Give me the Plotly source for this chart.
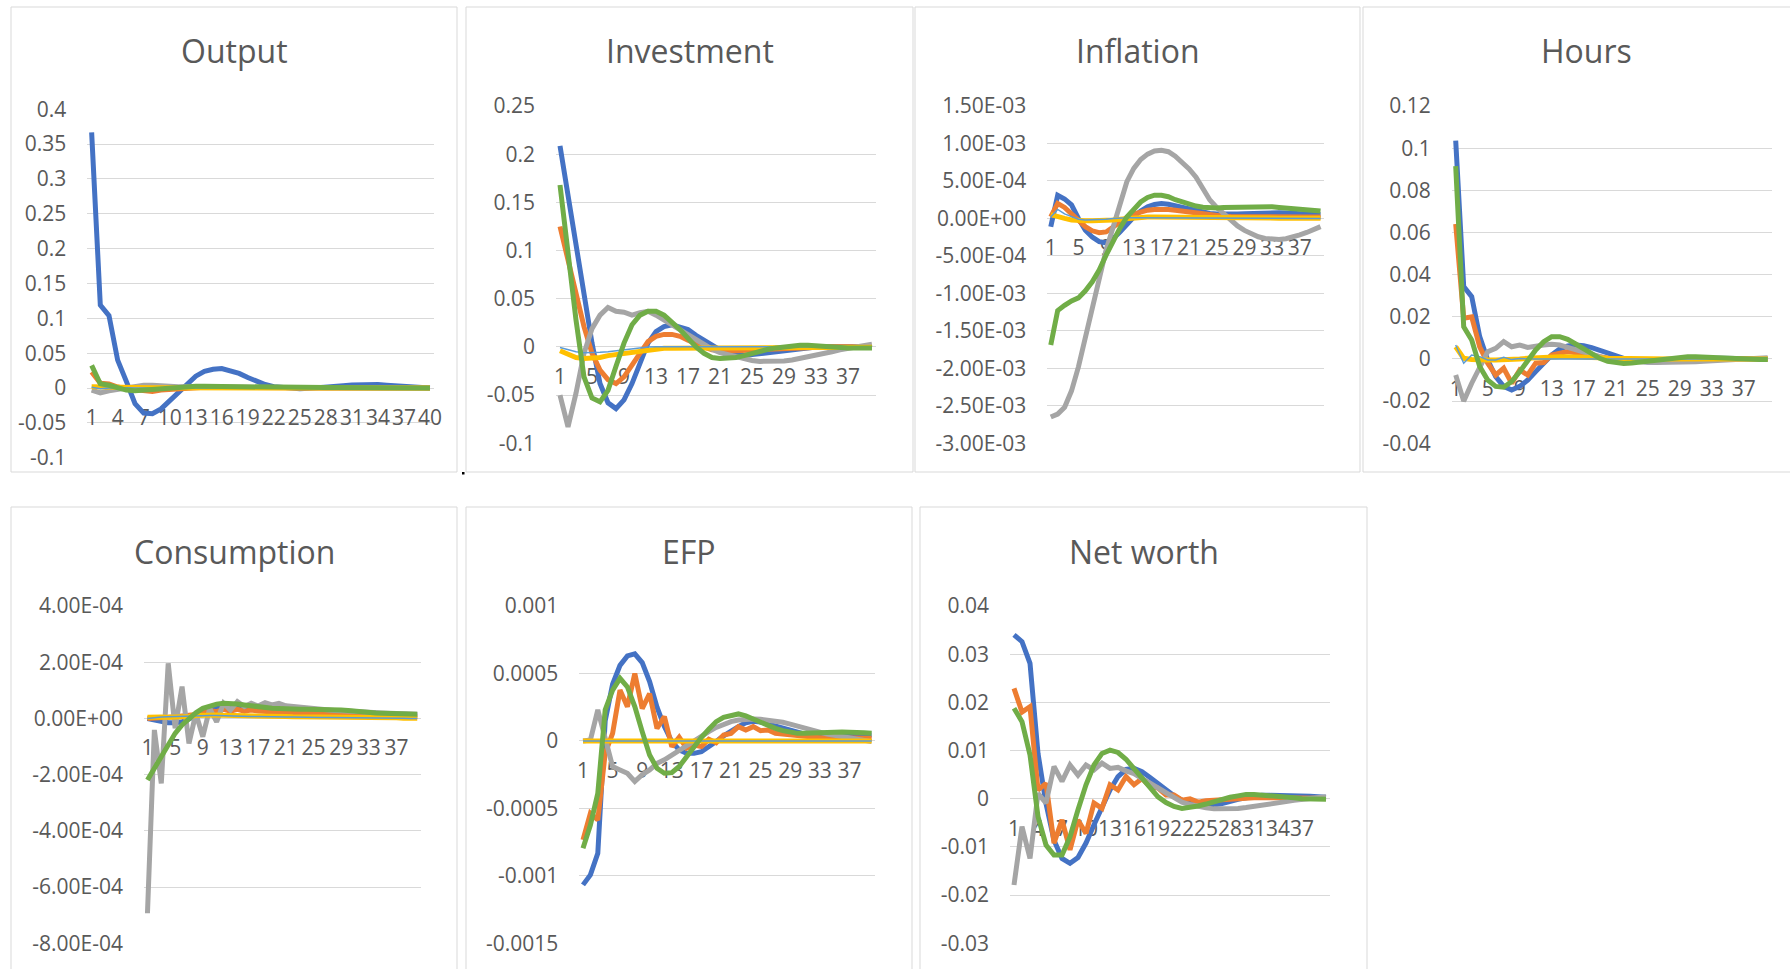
import plotly.graph_objects as go

W, H = 1790, 969
periods = list(range(1, 41))

# ---------------- Output ----------------
output_s1 = [0.367, 0.119, 0.104, 0.040, 0.0096, -0.0225, -0.036, -0.037, -0.030, -0.018,
             -0.006, 0.007, 0.017, 0.024, 0.027, 0.028, 0.025, 0.021, 0.015, 0.010,
             0.005, 0.002, 0.0005, -0.0005, -0.001, -0.0005, 0.0, 0.001, 0.0024, 0.0033,
             0.0043, 0.0048, 0.005, 0.005, 0.004, 0.003, 0.0024, 0.0014, 0.0005, 0.0]
output_s2 = [0.023, 0.007, 0.006, 0.0014, -0.001, -0.002, -0.004, -0.005, -0.003, -0.002,
             -0.001, 0.0005, 0.001, 0.001, 0.001, 0.0008, 0.0006, 0.0004, 0.0003, 0.0002,
             0.0001, 0.0, 0.0, 0.0, 0.0, 0.0, 0.0, 0.0, 0.0, 0.0,
             0.0, 0.0, 0.0, 0.0, 0.0, 0.0, 0.0, 0.0, 0.0, 0.0]
output_s3 = [-0.003, -0.007, -0.004, -0.002, 0.0014, 0.003, 0.004, 0.004, 0.003, 0.0025,
             0.002, 0.002, 0.0018, 0.0015, 0.0012, 0.001, 0.0008, 0.0005, 0.0003, 0.0001,
             0.0, -0.0002, -0.0003, -0.0003, -0.0003, -0.0003, -0.0002, -0.0002, -0.0001, -0.0001,
             0.0, 0.0, 0.0, 0.0, 0.0, 0.0, 0.0, 0.0, 0.0, 0.0]
output_s4 = [0.002, 0.0015, 0.001, 0.0008, 0.0006, 0.0005, 0.0004, 0.0003, 0.0003, 0.0002,
             0.0002, 0.0002, 0.0001, 0.0001, 0.0001, 0.0001, 0.0001, 0.0001, 0.0, 0.0,
             0.0, 0.0, 0.0, 0.0, 0.0, 0.0, 0.0, 0.0, 0.0, 0.0,
             0.0, 0.0, 0.0, 0.0, 0.0, 0.0, 0.0, 0.0, 0.0, 0.0]
output_s5 = [0.001, -0.001, 0.0, 0.0005, 0.0003, 0.0002, 0.0001, 0.0, 0.0, 0.0,
             0.0, 0.0, 0.0, 0.0, 0.0, 0.0, 0.0, 0.0, 0.0, 0.0,
             0.0, 0.0, 0.0, 0.0, 0.0, 0.0, 0.0, 0.0, 0.0, 0.0,
             0.0, 0.0, 0.0, 0.0, 0.0, 0.0, 0.0, 0.0, 0.0, 0.0]
output_s6 = [0.0325, 0.006, 0.004, 0.0, -0.003, -0.004, -0.003, -0.002, -0.001, 0.0005,
             0.0014, 0.0022, 0.0024, 0.0024, 0.0022, 0.002, 0.0016, 0.0012, 0.0008, 0.0005,
             0.0003, 0.0001, 0.0, -0.0001, 0.0, 0.0002, 0.0004, 0.0006, 0.0008, 0.0009,
             0.0009, 0.0008, 0.0007, 0.0006, 0.0005, 0.0004, 0.0003, 0.0002, 0.0001, 0.0]

# ---------------- Investment ----------------
investment_s1 = [0.2086, 0.156, 0.104, 0.052, 0.004, -0.038, -0.058, -0.064, -0.055, -0.038,
                 -0.017, 0.004, 0.016, 0.021, 0.023, 0.021, 0.018, 0.012, 0.007, 0.001,
                 -0.003, -0.006, -0.008, -0.009, -0.008, -0.007, -0.006, -0.0045, -0.003, -0.002,
                 -0.001, -0.0005, 0.0, 0.0003, 0.0005, 0.0005, 0.0005, 0.0004, 0.0003, 0.0002]
investment_s2 = [0.125, 0.090, 0.056, 0.021, -0.0066, -0.024, -0.034, -0.038, -0.031, -0.019,
                 -0.005, 0.0055, 0.011, 0.013, 0.013, 0.011, 0.007, 0.003, 0.0, -0.003,
                 -0.004, -0.004, -0.004, -0.004, -0.0035, -0.003, -0.0025, -0.002, -0.0015, -0.001,
                 -0.0006, -0.0003, 0.0, 0.0002, 0.0003, 0.0003, 0.0003, 0.0002, 0.0001, 0.0]
investment_s3 = [-0.050, -0.083, -0.048, -0.0066, 0.019, 0.033, 0.041, 0.037, 0.036, 0.033,
                 0.0356, 0.037, 0.033, 0.028, 0.023, 0.018, 0.012, 0.007, 0.002, -0.0024,
                 -0.006, -0.008, -0.011, -0.013, -0.014, -0.015, -0.015, -0.015, -0.0145, -0.0135,
                 -0.012, -0.010, -0.0086, -0.0066, -0.005, -0.003, -0.0014, 0.0003, 0.0017, 0.0028]
investment_s4 = [-0.004, -0.008, -0.011, -0.012, -0.012, -0.011, -0.009, -0.008, -0.0066, -0.005,
                 -0.004, -0.003, -0.002, -0.0014, -0.0014, -0.0014, -0.0014, -0.0014, -0.0012, -0.001,
                 -0.001, -0.001, -0.001, -0.0009, -0.0008, -0.0008, -0.0007, -0.0007, -0.0006, -0.0006,
                 -0.0005, -0.0005, -0.0005, -0.0004, -0.0004, -0.0004, -0.0003, -0.0003, -0.0003, -0.0003]
investment_s5 = [-0.0007, -0.003, -0.005, -0.006, -0.006, -0.0055, -0.005, -0.004, -0.0024, -0.0014,
                 -0.0005, 0.0, 0.0003, 0.0003, 0.0003, 0.0002, 0.0002, 0.0001, 0.0, 0.0,
                 0.0, 0.0, 0.0, 0.0, 0.0, 0.0, 0.0, 0.0, 0.0, 0.0,
                 0.0, 0.0, 0.0, 0.0, 0.0, 0.0, 0.0, 0.0, 0.0, 0.0]
investment_s6 = [0.168, 0.097, 0.028, -0.031, -0.053, -0.057, -0.045, -0.020, 0.004, 0.023,
                 0.033, 0.037, 0.037, 0.033, 0.026, 0.018, 0.009, 0.0, -0.0066, -0.011,
                 -0.012, -0.012, -0.011, -0.009, -0.0066, -0.0045, -0.0024, -0.001, 0.0003, 0.0014,
                 0.0017, 0.0017, 0.001, 0.0, -0.0005, -0.001, -0.001, -0.001, -0.001, -0.001]

# ---------------- Inflation ----------------
inflation_s1 = [-0.11e-3, 0.31e-3, 0.26e-3, 0.18e-3, 0.0, -0.156e-3, -0.25e-3, -0.31e-3, -0.325e-3, -0.27e-3,
                -0.18e-3, -0.067e-3, 0.02e-3, 0.10e-3, 0.156e-3, 0.187e-3, 0.20e-3, 0.19e-3, 0.17e-3, 0.14e-3,
                0.12e-3, 0.098e-3, 0.08e-3, 0.067e-3, 0.058e-3, 0.053e-3, 0.053e-3, 0.058e-3, 0.062e-3, 0.067e-3,
                0.071e-3, 0.076e-3, 0.076e-3, 0.076e-3, 0.071e-3, 0.067e-3, 0.062e-3, 0.058e-3, 0.053e-3, 0.049e-3]
inflation_s2 = [0.02e-3, 0.20e-3, 0.147e-3, 0.067e-3, -0.02e-3, -0.11e-3, -0.165e-3, -0.19e-3, -0.18e-3, -0.11e-3,
                -0.045e-3, 0.013e-3, 0.058e-3, 0.089e-3, 0.11e-3, 0.12e-3, 0.125e-3, 0.12e-3, 0.11e-3, 0.098e-3,
                0.085e-3, 0.067e-3, 0.058e-3, 0.044e-3, 0.035e-3, 0.03e-3, 0.027e-3, 0.025e-3, 0.025e-3, 0.025e-3,
                0.025e-3, 0.025e-3, 0.025e-3, 0.024e-3, 0.023e-3, 0.022e-3, 0.021e-3, 0.02e-3, 0.02e-3, 0.02e-3]
inflation_s3 = [-2.65e-3, -2.61e-3, -2.52e-3, -2.30e-3, -1.98e-3, -1.60e-3, -1.20e-3, -0.80e-3, -0.42e-3, -0.12e-3,
                0.20e-3, 0.49e-3, 0.667e-3, 0.787e-3, 0.858e-3, 0.90e-3, 0.91e-3, 0.89e-3, 0.83e-3, 0.75e-3,
                0.66e-3, 0.55e-3, 0.40e-3, 0.245e-3, 0.147e-3, 0.058e-3, -0.03e-3, -0.10e-3, -0.16e-3, -0.21e-3,
                -0.245e-3, -0.267e-3, -0.28e-3, -0.28e-3, -0.27e-3, -0.25e-3, -0.22e-3, -0.187e-3, -0.15e-3, -0.11e-3]
inflation_s4 = [0.05e-3, 0.02e-3, 0.0, -0.02e-3, -0.03e-3, -0.03e-3, -0.03e-3, -0.03e-3, -0.03e-3, -0.02e-3,
                -0.01e-3, 0.0, 0.01e-3, 0.015e-3, 0.02e-3, 0.02e-3, 0.02e-3, 0.02e-3, 0.02e-3, 0.02e-3,
                0.018e-3, 0.016e-3, 0.014e-3, 0.012e-3, 0.01e-3, 0.01e-3, 0.008e-3, 0.008e-3, 0.006e-3, 0.006e-3,
                0.005e-3, 0.005e-3, 0.004e-3, 0.004e-3, 0.003e-3, 0.003e-3, 0.003e-3, 0.002e-3, 0.002e-3, 0.002e-3]
inflation_s5 = [0.02e-3, 0.12e-3, 0.06e-3, 0.02e-3, -0.01e-3, -0.02e-3, -0.02e-3, -0.02e-3, -0.01e-3, 0.0,
                0.01e-3, 0.01e-3, 0.01e-3, 0.01e-3, 0.01e-3, 0.01e-3, 0.01e-3, 0.01e-3, 0.01e-3, 0.01e-3,
                0.005e-3, 0.005e-3, 0.005e-3, 0.005e-3, 0.005e-3, 0.0, 0.0, 0.0, 0.0, 0.0,
                0.0, 0.0, 0.0, 0.0, 0.0, 0.0, 0.0, 0.0, 0.0, 0.0]
inflation_s6 = [-1.69e-3, -1.23e-3, -1.16e-3, -1.10e-3, -1.06e-3, -0.965e-3, -0.845e-3, -0.69e-3, -0.49e-3, -0.29e-3,
                -0.13e-3, 0.02e-3, 0.13e-3, 0.22e-3, 0.28e-3, 0.31e-3, 0.31e-3, 0.29e-3, 0.25e-3, 0.22e-3,
                0.19e-3, 0.165e-3, 0.15e-3, 0.14e-3, 0.14e-3, 0.147e-3, 0.15e-3, 0.156e-3, 0.16e-3, 0.16e-3,
                0.16e-3, 0.16e-3, 0.156e-3, 0.147e-3, 0.138e-3, 0.13e-3, 0.12e-3, 0.11e-3, 0.10e-3, 0.098e-3]

# ---------------- Hours ----------------
hours_s1 = [0.1036, 0.0343, 0.0296, 0.0106, -0.0005, -0.0084, -0.013, -0.0147, -0.013, -0.010,
            -0.006, -0.002, 0.0019, 0.0047, 0.0062, 0.0066, 0.0063, 0.0054, 0.0041, 0.0027,
            0.0014, 0.0003, -0.0005, -0.0011, -0.0014, -0.0014, -0.0013, -0.001, -0.0006, -0.0003,
            0.0, 0.0002, 0.0003, 0.0003, 0.0003, 0.0003, 0.0003, 0.0002, 0.0001, 0.0]
hours_s2 = [0.064, 0.0193, 0.020, 0.0058, -0.002, -0.0076, -0.0044, -0.0115, -0.0052, -0.0076,
            -0.002, -0.0017, 0.0019, 0.0027, 0.0035, 0.003, 0.0027, 0.0019, 0.0011, 0.0003,
            -0.0002, -0.0004, -0.0005, -0.0005, -0.0004, -0.0003, -0.0002, -0.0001, 0.0, 0.0,
            0.0001, 0.0001, 0.0001, 0.0001, 0.0001, 0.0001, 0.0001, 0.0, 0.0, 0.0]
hours_s3 = [-0.0076, -0.020, -0.0115, -0.0036, 0.0035, 0.005, 0.0082, 0.0058, 0.0066, 0.0055,
            0.0058, 0.0066, 0.007, 0.0066, 0.0055, 0.0043, 0.003, 0.0019, 0.0008, 0.0,
            -0.0005, -0.0009, -0.0012, -0.0014, -0.0016, -0.0017, -0.0017, -0.0017, -0.0016, -0.0015,
            -0.0013, -0.0011, -0.0009, -0.0006, -0.0004, -0.0002, 0.0, 0.0002, 0.0004, 0.0006]
hours_s4 = [0.0058, 0.0003, -0.0002, -0.0005, -0.0005, -0.0005, -0.0005, -0.0005, 0.0, 0.0003,
            0.0006, 0.0009, 0.0011, 0.0011, 0.0011, 0.0011, 0.0011, 0.0009, 0.0006, 0.0003,
            0.0002, 0.0001, 0.0001, 0.0, 0.0, 0.0, 0.0, 0.0, 0.0, 0.0,
            0.0, 0.0, 0.0, 0.0, 0.0, 0.0, 0.0, 0.0, 0.0, 0.0]
hours_s5 = [0.0066, -0.002, 0.0019, 0.0011, -0.0005, -0.0005, 0.0008, -0.0003, 0.0002, 0.0,
            0.0, 0.0, 0.0, 0.0, 0.0, 0.0, 0.0, 0.0, 0.0, 0.0,
            0.0, 0.0, 0.0, 0.0, 0.0, 0.0, 0.0, 0.0, 0.0, 0.0,
            0.0, 0.0, 0.0, 0.0, 0.0, 0.0, 0.0, 0.0, 0.0, 0.0]
hours_s6 = [0.0915, 0.0153, 0.009, -0.0036, -0.010, -0.013, -0.0134, -0.0107, -0.006, -0.0005,
            0.0043, 0.0082, 0.0106, 0.0106, 0.0093, 0.0071, 0.0046, 0.0022, 0.0003, -0.0011,
            -0.0019, -0.0021, -0.0019, -0.0014, -0.001, -0.0003, 0.0002, 0.0006, 0.0009, 0.0011,
            0.0011, 0.0009, 0.0006, 0.0003, 0.0002, 0.0, -0.0001, -0.0002, -0.0002, -0.0002]

# ---------------- Consumption ----------------
consumption_s1 = [0.0, -0.06e-4, -0.12e-4, -0.15e-4, -0.15e-4, -0.12e-4, -0.02e-4, 0.10e-4, 0.22e-4, 0.32e-4,
                  0.39e-4, 0.42e-4, 0.42e-4, 0.42e-4, 0.42e-4, 0.42e-4, 0.39e-4, 0.36e-4, 0.33e-4, 0.32e-4,
                  0.32e-4, 0.32e-4, 0.32e-4, 0.31e-4, 0.29e-4, 0.28e-4, 0.27e-4, 0.27e-4, 0.26e-4, 0.25e-4,
                  0.23e-4, 0.21e-4, 0.19e-4, 0.17e-4, 0.16e-4, 0.15e-4, 0.14e-4, 0.13e-4, 0.12e-4, 0.12e-4]
consumption_s2 = [0.0, 0.0, 0.02e-4, 0.04e-4, 0.06e-4, 0.08e-4, 0.10e-4, 0.14e-4, 0.22e-4, 0.28e-4,
                  0.24e-4, 0.32e-4, 0.26e-4, 0.32e-4, 0.26e-4, 0.30e-4, 0.26e-4, 0.26e-4, 0.24e-4, 0.22e-4,
                  0.21e-4, 0.20e-4, 0.19e-4, 0.18e-4, 0.17e-4, 0.16e-4, 0.15e-4, 0.14e-4, 0.13e-4, 0.12e-4,
                  0.12e-4, 0.11e-4, 0.10e-4, 0.10e-4, 0.09e-4, 0.09e-4, 0.08e-4, 0.08e-4, 0.07e-4, 0.07e-4]
consumption_s3 = [-6.93e-4, -0.41e-4, -2.31e-4, 1.96e-4, -0.35e-4, 1.13e-4, -0.89e-4, 0.18e-4, -0.65e-4, 0.36e-4,
                  -0.12e-4, 0.54e-4, 0.30e-4, 0.60e-4, 0.42e-4, 0.54e-4, 0.44e-4, 0.56e-4, 0.48e-4, 0.54e-4,
                  0.45e-4, 0.42e-4, 0.39e-4, 0.36e-4, 0.34e-4, 0.32e-4, 0.30e-4, 0.28e-4, 0.27e-4, 0.25e-4,
                  0.24e-4, 0.22e-4, 0.21e-4, 0.20e-4, 0.19e-4, 0.18e-4, 0.17e-4, 0.16e-4, 0.15e-4, 0.15e-4]
consumption_s4 = [0.04e-4, 0.06e-4, 0.05e-4, 0.04e-4, 0.04e-4, 0.05e-4, 0.07e-4, 0.10e-4, 0.12e-4, 0.12e-4,
                  0.12e-4, 0.11e-4, 0.11e-4, 0.10e-4, 0.10e-4, 0.09e-4, 0.09e-4, 0.08e-4, 0.08e-4, 0.07e-4,
                  0.07e-4, 0.06e-4, 0.06e-4, 0.06e-4, 0.05e-4, 0.05e-4, 0.05e-4, 0.04e-4, 0.04e-4, 0.04e-4,
                  0.04e-4, 0.03e-4, 0.03e-4, 0.03e-4, 0.02e-4, 0.02e-4, 0.02e-4, 0.01e-4, 0.01e-4, 0.01e-4]
consumption_s5 = [0.0, 0.03e-4, 0.05e-4, 0.06e-4, 0.07e-4, 0.08e-4, 0.09e-4, 0.10e-4, 0.10e-4, 0.10e-4,
                  0.10e-4, 0.09e-4, 0.09e-4, 0.08e-4, 0.08e-4, 0.07e-4, 0.07e-4, 0.06e-4, 0.06e-4, 0.05e-4,
                  0.05e-4, 0.05e-4, 0.04e-4, 0.04e-4, 0.04e-4, 0.03e-4, 0.03e-4, 0.03e-4, 0.03e-4, 0.02e-4,
                  0.02e-4, 0.02e-4, 0.02e-4, 0.01e-4, 0.01e-4, 0.01e-4, 0.01e-4, 0.01e-4, 0.0, 0.0]
consumption_s6 = [-2.19e-4, -1.77e-4, -1.30e-4, -0.89e-4, -0.53e-4, -0.23e-4, 0.0, 0.20e-4, 0.36e-4, 0.45e-4,
                  0.51e-4, 0.54e-4, 0.54e-4, 0.51e-4, 0.48e-4, 0.44e-4, 0.41e-4, 0.38e-4, 0.36e-4, 0.35e-4,
                  0.33e-4, 0.33e-4, 0.33e-4, 0.33e-4, 0.33e-4, 0.33e-4, 0.33e-4, 0.32e-4, 0.30e-4, 0.28e-4,
                  0.25e-4, 0.23e-4, 0.20e-4, 0.19e-4, 0.18e-4, 0.17e-4, 0.16e-4, 0.16e-4, 0.15e-4, 0.15e-4]

# ---------------- EFP ----------------
efp_s1 = [-1.067e-3, -0.993e-3, -0.833e-3, 0.15e-3, 0.42e-3, 0.56e-3, 0.63e-3, 0.645e-3, 0.58e-3, 0.44e-3,
          0.25e-3, 0.106e-3, -0.005e-3, -0.067e-3, -0.092e-3, -0.092e-3, -0.08e-3, -0.047e-3, -0.005e-3, 0.037e-3,
          0.074e-3, 0.106e-3, 0.135e-3, 0.145e-3, 0.14e-3, 0.125e-3, 0.11e-3, 0.093e-3, 0.076e-3, 0.064e-3,
          0.051e-3, 0.042e-3, 0.037e-3, 0.032e-3, 0.032e-3, 0.034e-3, 0.037e-3, 0.039e-3, 0.042e-3, 0.044e-3]
efp_s2 = [-0.734e-3, -0.537e-3, -0.586e-3, -0.09e-3, 0.056e-3, 0.377e-3, 0.254e-3, 0.50e-3, 0.24e-3, 0.35e-3,
          0.093e-3, 0.18e-3, -0.042e-3, 0.027e-3, -0.054e-3, -0.03e-3, -0.042e-3, 0.012e-3, -0.013e-3, 0.044e-3,
          0.056e-3, 0.106e-3, 0.081e-3, 0.106e-3, 0.076e-3, 0.081e-3, 0.056e-3, 0.051e-3, 0.037e-3, 0.037e-3,
          0.027e-3, 0.025e-3, 0.024e-3, 0.023e-3, 0.022e-3, 0.021e-3, 0.02e-3, 0.02e-3, 0.02e-3, 0.02e-3]
efp_s3 = [0.0, 0.007e-3, 0.23e-3, 0.007e-3, -0.19e-3, -0.215e-3, -0.24e-3, -0.30e-3, -0.25e-3, -0.215e-3,
          -0.166e-3, -0.14e-3, -0.104e-3, -0.072e-3, -0.042e-3, -0.005e-3, 0.032e-3, 0.069e-3, 0.10e-3, 0.125e-3,
          0.143e-3, 0.155e-3, 0.16e-3, 0.163e-3, 0.16e-3, 0.155e-3, 0.148e-3, 0.138e-3, 0.125e-3, 0.11e-3,
          0.093e-3, 0.076e-3, 0.064e-3, 0.051e-3, 0.042e-3, 0.032e-3, 0.022e-3, 0.012e-3, 0.002e-3, -0.005e-3]
efp_s4 = [0.0] * 40
efp_s5 = [0.0] * 40
efp_s6 = [-0.796e-3, -0.623e-3, -0.388e-3, 0.23e-3, 0.377e-3, 0.464e-3, 0.40e-3, 0.254e-3, 0.069e-3, -0.104e-3,
          -0.203e-3, -0.24e-3, -0.235e-3, -0.19e-3, -0.117e-3, -0.042e-3, 0.027e-3, 0.086e-3, 0.143e-3, 0.175e-3,
          0.19e-3, 0.20e-3, 0.185e-3, 0.16e-3, 0.135e-3, 0.113e-3, 0.093e-3, 0.076e-3, 0.064e-3, 0.056e-3,
          0.056e-3, 0.056e-3, 0.059e-3, 0.061e-3, 0.064e-3, 0.066e-3, 0.066e-3, 0.064e-3, 0.061e-3, 0.056e-3]

# ---------------- Net worth (series 4 and 5 have no values here) ----------------
networth_s1 = [0.034, 0.0326, 0.0281, 0.0094, -0.001, -0.0086, -0.0124, -0.0134, -0.0122, -0.0092,
               -0.0054, -0.0016, 0.0018, 0.0046, 0.0061, 0.0063, 0.0056, 0.0044, 0.0031, 0.0018,
               0.0006, -0.0003, -0.001, -0.0013, -0.0014, -0.0013, -0.001, -0.0005, -0.0001, 0.0002,
               0.0005, 0.0007, 0.0007, 0.0007, 0.0007, 0.0006, 0.0005, 0.0005, 0.0004, 0.0003]
networth_s2 = [0.0229, 0.018, 0.0191, 0.0018, 0.0032, -0.0092, -0.0044, -0.0106, -0.0044, -0.0072,
               -0.0009, -0.002, 0.0029, 0.0018, 0.0046, 0.0029, 0.0042, 0.0025, 0.0022, 0.0008,
               0.0008, -0.0003, 0.0, -0.0007, -0.0004, -0.0003, 0.0, 0.0001, 0.0002, 0.0002,
               0.0002, 0.0002, 0.0002, 0.0002, 0.0002, 0.0001, 0.0001, 0.0001, 0.0001, 0.0001]
networth_s3 = [-0.0179, -0.0058, -0.0124, 0.0011, -0.0009, 0.0067, 0.0036, 0.007, 0.0049, 0.007,
               0.006, 0.0074, 0.0063, 0.0065, 0.0058, 0.0052, 0.0042, 0.0032, 0.0022, 0.0011,
               0.0001, -0.0007, -0.0012, -0.0016, -0.0019, -0.0021, -0.0021, -0.0021, -0.002, -0.0018,
               -0.0016, -0.0014, -0.0012, -0.0009, -0.0006, -0.0003, -0.0001, 0.0001, 0.0002, 0.0004]
networth_s4 = None
networth_s5 = None
networth_s6 = [0.0188, 0.016, 0.0091, -0.0037, -0.0096, -0.0117, -0.0117, -0.0079, -0.0023, 0.0029,
               0.007, 0.0094, 0.0101, 0.0096, 0.0082, 0.0063, 0.0042, 0.0022, 0.0004, -0.0008,
               -0.0016, -0.002, -0.0018, -0.0015, -0.0011, -0.0006, -0.0001, 0.0003, 0.0006, 0.0009,
               0.0009, 0.0008, 0.0007, 0.0005, 0.0003, 0.0002, 0.0, -0.0001, -0.0001, -0.0001]

# ---------------- axis ticks ----------------
output_yticks = [0.4, 0.35, 0.3, 0.25, 0.2, 0.15, 0.1, 0.05, 0, -0.05, -0.1]
output_ylabels = ["0.4", "0.35", "0.3", "0.25", "0.2", "0.15", "0.1", "0.05", "0", "-0.05", "-0.1"]
investment_yticks = [0.25, 0.2, 0.15, 0.1, 0.05, 0, -0.05, -0.1]
investment_ylabels = ["0.25", "0.2", "0.15", "0.1", "0.05", "0", "-0.05", "-0.1"]
inflation_yticks = [1.5e-3, 1.0e-3, 5e-4, 0, -5e-4, -1.0e-3, -1.5e-3, -2.0e-3, -2.5e-3, -3.0e-3]
inflation_ylabels = ["1.50E-03", "1.00E-03", "5.00E-04", "0.00E+00", "-5.00E-04", "-1.00E-03",
                     "-1.50E-03", "-2.00E-03", "-2.50E-03", "-3.00E-03"]
hours_yticks = [0.12, 0.1, 0.08, 0.06, 0.04, 0.02, 0, -0.02, -0.04]
hours_ylabels = ["0.12", "0.1", "0.08", "0.06", "0.04", "0.02", "0", "-0.02", "-0.04"]
consumption_yticks = [4e-4, 2e-4, 0, -2e-4, -4e-4, -6e-4, -8e-4]
consumption_ylabels = ["4.00E-04", "2.00E-04", "0.00E+00", "-2.00E-04", "-4.00E-04", "-6.00E-04", "-8.00E-04"]
efp_yticks = [0.001, 0.0005, 0, -0.0005, -0.001, -0.0015]
efp_ylabels = ["0.001", "0.0005", "0", "-0.0005", "-0.001", "-0.0015"]
networth_yticks = [0.04, 0.03, 0.02, 0.01, 0, -0.01, -0.02, -0.03]
networth_ylabels = ["0.04", "0.03", "0.02", "0.01", "0", "-0.01", "-0.02", "-0.03"]

xticks_every3 = list(range(1, 41, 3))          # 1, 4, ..., 40
xticks_every3_short = list(range(1, 38, 3))    # 1, 4, ..., 37
xticks_every4 = list(range(1, 41, 4))          # 1, 5, ..., 37

series_names = ["Shock 1", "Shock 2", "Shock 3", "Shock 4", "Shock 5", "Shock 6"]

# ---------------- styling ----------------
SERIES_COLORS = ["#4472C4", "#ED7D31", "#A5A5A5", "#FFC000", "#5B9BD5", "#70AD47"]
SERIES_WIDTHS = [5, 5, 5, 5, 1.5, 5]
TEXT = "#595959"
GRID = "#D9D9D9"
FONT = "Open Sans"

# Panel geometry in pixels: chart frame (l, t, r, b) and plot area (l, t, r, b)
panels = [
    dict(title="Output",
         series=[output_s1, output_s2, output_s3, output_s4, output_s5, output_s6],
         yticks=output_yticks, ylabels=output_ylabels, xticks=xticks_every3,
         frame=(11, 7, 457, 472), plot=(87.3, 109.3, 434.3, 457.7)),
    dict(title="Investment",
         series=[investment_s1, investment_s2, investment_s3, investment_s4, investment_s5, investment_s6],
         yticks=investment_yticks, ylabels=investment_ylabels, xticks=xticks_every4,
         frame=(466, 7, 913, 472), plot=(556, 106, 876, 443.3)),
    dict(title="Inflation",
         series=[inflation_s1, inflation_s2, inflation_s3, inflation_s4, inflation_s5, inflation_s6],
         yticks=inflation_yticks, ylabels=inflation_ylabels, xticks=xticks_every4,
         frame=(915, 7, 1360, 472), plot=(1047.3, 106, 1324, 443.3)),
    dict(title="Hours",
         series=[hours_s1, hours_s2, hours_s3, hours_s4, hours_s5, hours_s6],
         yticks=hours_yticks, ylabels=hours_ylabels, xticks=xticks_every4,
         frame=(1363, 7, 1810, 472), plot=(1451.7, 106, 1771.7, 443.3)),
    dict(title="Consumption",
         series=[consumption_s1, consumption_s2, consumption_s3, consumption_s4, consumption_s5, consumption_s6],
         yticks=consumption_yticks, ylabels=consumption_ylabels, xticks=xticks_every4,
         frame=(11, 507, 457, 980), plot=(144, 606, 420.7, 943.3)),
    dict(title="EFP",
         series=[efp_s1, efp_s2, efp_s3, efp_s4, efp_s5, efp_s6],
         yticks=efp_yticks, ylabels=efp_ylabels, xticks=xticks_every4,
         frame=(466, 507, 912, 980), plot=(579.3, 606, 875.3, 943.3)),
    dict(title="Net worth",
         series=[networth_s1, networth_s2, networth_s3, networth_s4, networth_s5, networth_s6],
         yticks=networth_yticks, ylabels=networth_ylabels, xticks=xticks_every3_short,
         frame=(920, 507, 1367, 980), plot=(1010, 606, 1330, 943.3)),
]


def px_x(v):
    return v / W


def px_y(v):
    return 1 - v / H


fig = go.Figure()
shapes = []
annotations = []
layout_axes = {}

for k, p in enumerate(panels, start=1):
    xa = "x" if k == 1 else f"x{k}"
    ya = "y" if k == 1 else f"y{k}"
    pl, pt, pr, pb = p["plot"]
    ymax, ymin = max(p["yticks"]), min(p["yticks"])
    span = ymax - ymin
    eps = span * 1e-6

    for s, (vals, name) in enumerate(zip(p["series"], series_names)):
        if vals is None:
            continue
        fig.add_trace(go.Scatter(
            x=periods, y=vals, name=name, mode="lines",
            line=dict(color=SERIES_COLORS[s], width=SERIES_WIDTHS[s]),
            xaxis=xa, yaxis=ya, showlegend=False, hoverinfo="skip"))

    # category axis crosses at zero
    zero_px = pt + (ymax - 0) / span * (pb - pt)
    layout_axes[("xaxis" if k == 1 else f"xaxis{k}")] = dict(
        domain=[px_x(pl), px_x(pr)], range=[0.5, 40.5],
        anchor="free", position=px_y(zero_px), automargin=False,
        tickmode="array", tickvals=p["xticks"], ticktext=[str(t) for t in p["xticks"]],
        tickangle=0, showgrid=False, zeroline=False, showline=False, ticks="",
        ticklabelstandoff=15, layer="below traces",
        tickfont=dict(family=FONT, size=21, color=TEXT), fixedrange=True)
    layout_axes[("yaxis" if k == 1 else f"yaxis{k}")] = dict(
        domain=[px_y(pb), px_y(pt)], range=[ymin - eps, ymax + eps],
        anchor=xa, automargin=False, tickmode="array", tickvals=p["yticks"], ticktext=p["ylabels"],
        showgrid=True, gridcolor=GRID, gridwidth=1, zeroline=False, showline=False,
        ticks="", ticklabelstandoff=20,
        tickfont=dict(family=FONT, size=21, color=TEXT), fixedrange=True)

    fl, ft, fr, fb = p["frame"]
    shapes.append(dict(type="rect", xref="paper", yref="paper",
                       x0=px_x(fl), x1=px_x(fr), y0=px_y(fb), y1=px_y(ft),
                       line=dict(color=GRID, width=1), fillcolor="rgba(0,0,0,0)", layer="below"))
    annotations.append(dict(text=p["title"], xref="paper", yref="paper",
                            x=px_x((fl + fr) / 2), y=px_y(ft + 44), xanchor="center", yanchor="middle",
                            showarrow=False, font=dict(family=FONT, size=32, color=TEXT)))

# small stray mark between the two first frames
shapes.append(dict(type="rect", xref="paper", yref="paper",
                   x0=px_x(462), x1=px_x(464.5), y0=px_y(474.5), y1=px_y(472),
                   line=dict(width=0), fillcolor="#000000"))

fig.update_layout(
    width=W, height=H, margin=dict(l=0, r=0, t=0, b=0, autoexpand=False),
    paper_bgcolor="white", plot_bgcolor="rgba(0,0,0,0)",
    showlegend=False, shapes=shapes, annotations=annotations,
    font=dict(family=FONT, color=TEXT),
    **layout_axes)

fig.write_html("out.html")
